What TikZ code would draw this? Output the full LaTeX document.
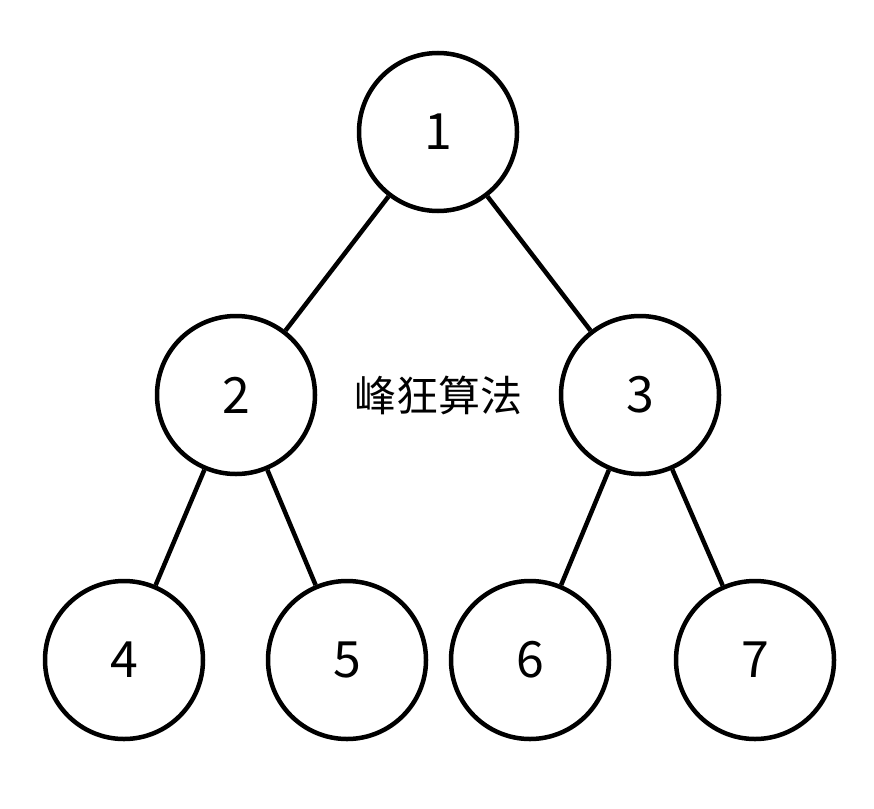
\documentclass[tikz,border=0pt]{standalone}
\usepackage{fontspec}
\setmainfont{Noto Sans CJK SC}
\usetikzlibrary{positioning}

\begin{document}
\begin{tikzpicture}[x=1pt, y=-1pt,
            vertex/.style={circle, draw, line width=4.5pt, minimum size=158pt, inner sep=0pt, font=\fontsize{50}{50}\selectfont},
            link/.style={line width=4.5pt}]
            \useasboundingbox (0,0) rectangle (874,808);
            \node [vertex] (n1) at (438,132) {1};
            \node [vertex] (n2) at (236,395) {2};
            \node [vertex] (n3) at (640,395) {3};
            \node [vertex] (n4) at (124,660) {4};
            \node [vertex] (n5) at (347,660) {5};
            \node [vertex] (n6) at (530,660) {6};
            \node [vertex] (n7) at (755,660) {7};
            \node [font=\fontsize{42}{42}\selectfont] (title) at (438,395) {峰狂算法};

            \draw [link] (n1) -- (n2);
            \draw [link] (n1) -- (n3);
            \draw [link] (n2) -- (n4);
            \draw [link] (n2) -- (n5);
            \draw [link] (n3) -- (n6);
            \draw [link] (n3) -- (n7);
        \end{tikzpicture}
\end{document}
